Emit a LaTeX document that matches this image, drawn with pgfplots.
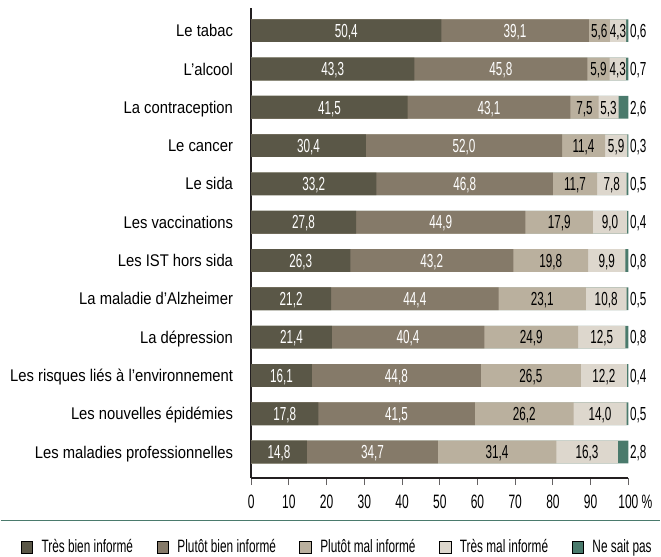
\documentclass[border=0pt]{standalone}
\usepackage{pgfplots}
\usepackage{pgfplotstable}
\pgfplotsset{compat=1.18}
\usepackage{fontspec}
\setmainfont{Liberation Sans}[FakeStretch=0.875]
\newfontfamily\numfont{Liberation Sans}[FakeStretch=0.62]
\newfontfamily\legfont{Liberation Sans}[FakeStretch=0.66]
\definecolor{cA}{HTML}{5A5747}
\definecolor{cB}{HTML}{857A69}
\definecolor{cC}{HTML}{BAB09E}
\definecolor{cD}{HTML}{DDD7CD}
\definecolor{cE}{HTML}{4A7A6C}
\definecolor{axisc}{HTML}{231F20}

\pgfplotstableread{
idx a b c d e
0 50.4 39.1 5.6 4.3 0.6
1 43.3 45.8 5.9 4.3 0.7
2 41.5 43.1 7.5 5.3 2.6
3 30.4 52.0 11.4 5.9 0.3
4 33.2 46.8 11.7 7.8 0.5
5 27.8 44.9 17.9 9.0 0.4
6 26.3 43.2 19.8 9.9 0.8
7 21.2 44.4 23.1 10.8 0.5
8 21.4 40.4 24.9 12.5 0.8
9 16.1 44.8 26.5 12.2 0.4
10 17.8 41.5 26.2 14.0 0.5
11 14.8 34.7 31.4 16.3 2.8
}\data
\pgfplotstablecreatecol[create col/expr={\thisrow{a}}]{sa}\data
\pgfplotstablecreatecol[create col/expr={\thisrow{sa}+\thisrow{b}}]{sb}\data
\pgfplotstablecreatecol[create col/expr={\thisrow{sb}+\thisrow{c}}]{sc}\data
\pgfplotstablecreatecol[create col/expr={\thisrow{sc}+\thisrow{d}}]{sd}\data
\pgfplotstablecreatecol[create col/expr={\thisrow{sd}+\thisrow{e}}]{se}\data
\pgfplotstablecreatecol[create col/expr={\thisrow{a}/2}]{ma}\data
\pgfplotstablecreatecol[create col/expr={\thisrow{sa}+\thisrow{b}/2}]{mb}\data
\pgfplotstablecreatecol[create col/expr={\thisrow{sb}+\thisrow{c}/2}]{mc}\data
\pgfplotstablecreatecol[create col/expr={\thisrow{sc}+\thisrow{d}/2}]{md}\data

\pgfplotsset{
  bars/.style={xbar, bar width=22.7bp, bar shift=0pt, draw=none, forget plot},
  lbl/.style={forget plot, draw=none, mark=none,
    nodes near coords={\pgfmathprintnumber[fixed,fixed zerofill,precision=1,use comma,assume math mode=true]{\pgfplotspointmeta}},
    point meta=explicit,
    nodes near coords style={anchor=center, text=#1, inner sep=0pt,
      text height=13.6bp, text depth=0pt,
      font=\numfont\fontsize{19}{20}\selectfont}},
}

\begin{document}
\begin{tikzpicture}
\begin{axis}[
  scale only axis,
  width=378bp, height=471bp,
  xmin=0, xmax=100,
  ymin=-0.59, ymax=11.68,
  y dir=reverse,
  clip=false,
  axis x line*=bottom,
  axis y line*=left,
  axis line style={line width=1.8bp, draw=axisc, -},
  xtick={0,10,...,100},
  xticklabels={0,10,20,30,40,50,60,70,80,90,{100\rlap{\,\%}}},
  tick align=outside,
  major tick length=7bp,
  xtick style={line width=0.9bp, draw=axisc!70},
  xticklabel style={font=\numfont\fontsize{19.5}{20}\selectfont, yshift=-6bp},
  ytick={0,...,11},
  yticklabels={Le tabac, L’alcool, La contraception, Le cancer, Le sida, Les vaccinations, Les IST hors sida, La maladie d’Alzheimer, La dépression, Les risques liés à l’environnement, Les nouvelles épidémies, Les maladies professionnelles},
  ytick style={draw=none},
  yticklabel style={font=\fontsize{17}{19}\selectfont, anchor=east, inner sep=0pt, text height=12.2bp, text depth=0pt, xshift=-11bp},
  legend style={at={(axis cs:-61.1,13.48)}, anchor=west, draw=none, fill=none,
    inner sep=0pt, outer sep=0pt,
    legend columns=5, font=\legfont\fontsize{18}{20}\selectfont,
    /tikz/every odd column/.append style={column sep=7bp},
    /tikz/every even column/.append style={column sep=21.5bp},
    legend cell align=left},
  legend image code/.code={\fill[#1] (0bp,-5.8bp) rectangle (11.6bp,5.8bp);},
]
\addplot[bars, fill=cE] table[x=se, y=idx] {\data};
\addplot[bars, fill=cD] table[x=sd, y=idx] {\data};
\addplot[bars, fill=cC] table[x=sc, y=idx] {\data};
\addplot[bars, fill=cB] table[x=sb, y=idx] {\data};
\addplot[bars, fill=cA] table[x=sa, y=idx] {\data};

\addplot[lbl=white] table[x=ma, y=idx, meta=a] {\data};
\addplot[lbl=white] table[x=mb, y=idx, meta=b] {\data};
\addplot[lbl=black] table[x=mc, y=idx, meta=c] {\data};
\addplot[lbl=black] table[x=md, y=idx, meta=d] {\data};
\addplot[lbl=black, nodes near coords style={anchor=west, xshift=1.5bp}] table[x=se, y=idx, meta=e] {\data};

\addlegendimage{fill=cA}
\addlegendentry{Très bien informé}
\addlegendimage{fill=cB}
\addlegendentry{Plutôt bien informé}
\addlegendimage{fill=cC}
\addlegendentry{Plutôt mal informé}
\addlegendimage{fill=cD}
\addlegendentry{Très mal informé}
\addlegendimage{fill=cE}
\addlegendentry{Ne sait pas}

\draw[cE, line width=1.3bp] (axis cs:-66.4,12.78) -- (axis cs:108.47,12.78);
\path (axis cs:-66.4,-0.80) (axis cs:108.47,13.63);
\end{axis}
\end{tikzpicture}
\end{document}
